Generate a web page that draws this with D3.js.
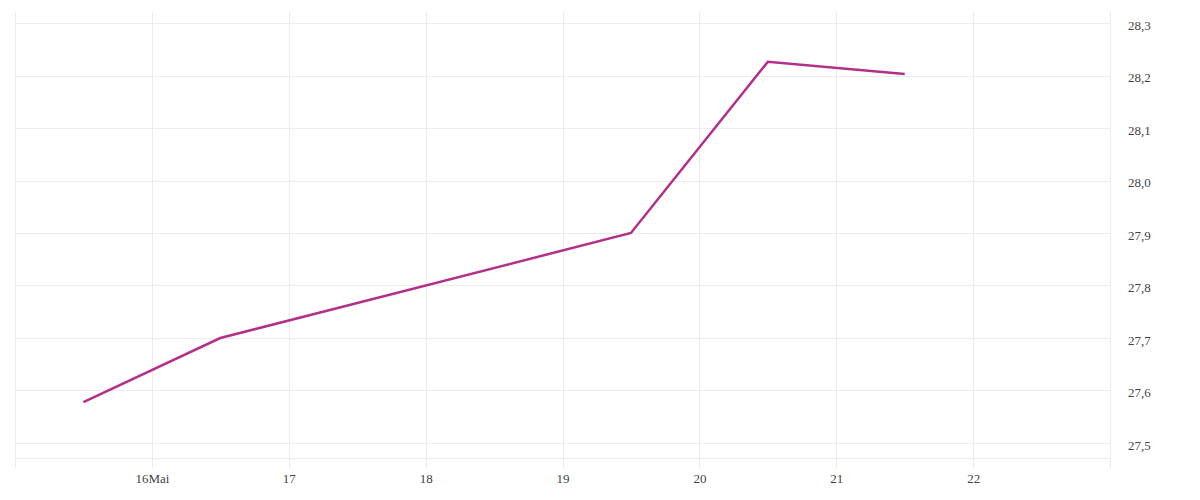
<!DOCTYPE html>
<html><head><meta charset="utf-8">
<script src="https://cdn.jsdelivr.net/npm/d3@7"></script>
<style>
html,body{margin:0;padding:0;background:#fff;}
svg text{font-family:"Liberation Serif","DejaVu Serif",serif;font-size:13px;fill:#444;}
</style></head>
<body><svg id="c" width="1200" height="500"></svg>
<script>
// Data (day of May, value)
const days = [15.5, 16.5, 19.5, 20.5, 21.5];
const values = [27.578, 27.70, 27.90, 28.226, 28.203];
const xTickDays = [16, 17, 18, 19, 20, 21, 22];
const xTickLabels = ["16Mai", "17", "18", "19", "20", "21", "22"];
const yTicks = [27.5, 27.6, 27.7, 27.8, 27.9, 28.0, 28.1, 28.2, 28.3];

(function () {
const svg = d3.select("#c");
const pl = 15, pr = 1110, pt = 12, pb = 468;
const x = d3.scaleLinear().domain([15, 23]).range([pl, pr]);
const y = d3.scaleLinear().domain([27.5, 28.3]).range([443, 23]);
const grid = "#ececec";

// vertical gridlines
const vx = [15, ...xTickDays, 23];
svg.append("g").selectAll("line").data(vx).join("line")
  .attr("x1", d => Math.round(x(d)) + 0.5).attr("x2", d => Math.round(x(d)) + 0.5)
  .attr("y1", pt).attr("y2", pb)
  .attr("stroke", grid).attr("stroke-width", 1);

// horizontal gridlines
svg.append("g").selectAll("line").data(yTicks).join("line")
  .attr("x1", pl).attr("x2", pr)
  .attr("y1", d => Math.round(y(d)) + 0.5).attr("y2", d => Math.round(y(d)) + 0.5)
  .attr("stroke", grid).attr("stroke-width", 1);
// bottom baseline
svg.append("line").attr("x1", pl).attr("x2", pr)
  .attr("y1", 458.5).attr("y2", 458.5).attr("stroke", grid);

// y labels
const yAxis = d3.axisRight(y).tickValues(yTicks).tickSize(0).tickPadding(0)
  .tickFormat(d => d3.format(".1f")(d).replace(".", ","));
const ya = svg.append("g").attr("transform", `translate(1128,2)`).call(yAxis);
ya.select(".domain").remove();
ya.selectAll("text").attr("font-family", null).attr("font-size", null);

// x labels
const xAxis = d3.axisBottom(x).tickValues(xTickDays).tickSize(0).tickPadding(0)
  .tickFormat((d, i) => xTickLabels[i]);
const xa = svg.append("g").attr("transform", `translate(0,474)`).call(xAxis);
xa.select(".domain").remove();
xa.selectAll("text").attr("font-family", null).attr("font-size", null);

// line
const line = d3.line().x((d, i) => x(days[i])).y(d => y(d));
svg.append("path").datum(values)
  .attr("d", line).attr("fill", "none")
  .attr("stroke", "#b3308a").attr("stroke-width", 2.5)
  .attr("stroke-linejoin", "miter");
})();
</script></body></html>
